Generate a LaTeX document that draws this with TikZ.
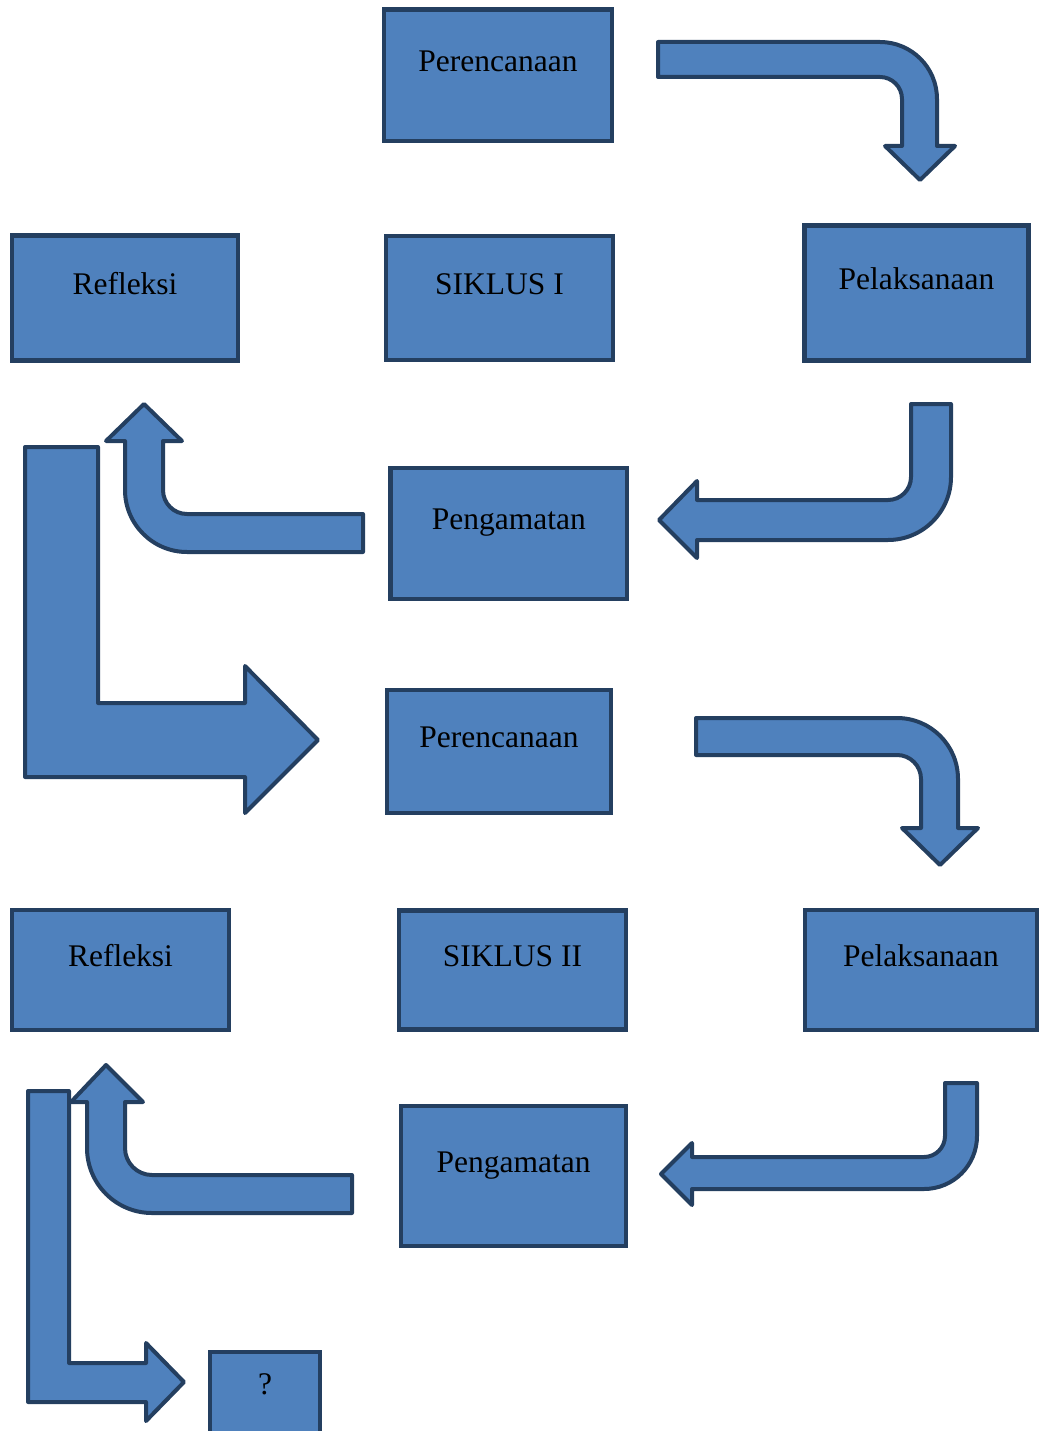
\documentclass[tikz,border=0pt]{standalone}
\usepackage{fontspec}
\setmainfont{Liberation Serif}
\usepackage{tikz}
\definecolor{boxfill}{HTML}{4F81BD}
\definecolor{boxline}{HTML}{243F60}
\tikzset{
	stage/.style={rectangle,draw=boxline,fill=boxfill,line width=4.5pt,inner sep=0pt,font=\fontsize{31.5}{36}\selectfont,text height=22pt,text depth=30pt},
	bent/.style={draw=boxline,fill=boxfill,line width=4pt,line join=round}}

\begin{document}
\begin{tikzpicture}[x=1pt,y=-1pt]
	\useasboundingbox (0,0) rectangle (1040,1431);
	\clip (0,0) rectangle (1040,1431);
	\node (P1) at (498,75.25) [stage,minimum width=228pt,minimum height=131.5pt] {Perencanaan};
	\node (R1) at (125,298) [stage,minimum width=226pt,minimum height=125pt] {Refleksi};
	\node (S1) at (499.5,298) [stage,minimum width=227pt,minimum height=124pt] {SIKLUS I};
	\node (L1) at (916.5,293) [stage,minimum width=224pt,minimum height=135pt] {Pelaksanaan};
	\node (G1) at (508.75,533.5) [stage,minimum width=236.5pt,minimum height=131pt] {Pengamatan};
	\node (P2) at (499,751.5) [stage,minimum width=224pt,minimum height=123pt] {Perencanaan};
	\node (R2) at (120.5,970) [stage,minimum width=217pt,minimum height=120pt] {Refleksi};
	\node (S2) at (512.5,970) [stage,minimum width=227pt,minimum height=119pt] {SIKLUS II};
	\node (L2) at (921,970) [stage,minimum width=232pt,minimum height=120pt] {Pelaksanaan};
	\node (G2) at (513.5,1176) [stage,minimum width=225pt,minimum height=140pt] {Pengamatan};
	\node (Q) at (265,1398) [stage,minimum width=110pt,minimum height=92pt] {?};
	\draw [bent] (658,42) -- (880,42) .. controls (911.5,42) and (937,67.5) .. (937,99) -- (937,146) -- (955,146) -- (920,180) -- (885,146) -- (902,146) -- (902,99) .. controls (902,86.9) and (892.1,77) .. (880,77) -- (658,77) -- cycle;
	\draw [bent] (911,404) -- (951,404) -- (951,477) .. controls (951,511.8) and (922.8,540) .. (888,540) -- (697,540) -- (697,558) -- (659,520) -- (697,481) -- (697,500) -- (888,500) .. controls (900.7,500) and (911,489.7) .. (911,477) -- cycle;
	\draw [bent] (363,514) -- (187,514) .. controls (173.7,514) and (163,503.3) .. (163,490) -- (163,441) -- (182,441) -- (144,404) -- (106,441) -- (125,441) -- (125,490) .. controls (125,524.2) and (152.8,552) .. (187,552) -- (363,552) -- cycle;
	\draw [bent] (25,447) -- (98,447) -- (98,703) -- (245,703) -- (245,666) -- (318,740) -- (245,813) -- (245,777) -- (25,777) -- cycle;
	\draw [bent] (696,718) -- (897,718) .. controls (930.7,718) and (958,745.3) .. (958,779) -- (958,828) -- (978,828) -- (940,865) -- (902,828) -- (921,828) -- (921,779) .. controls (921,765.7) and (910.3,755) .. (897,755) -- (696,755) -- cycle;
	\draw [bent] (945,1083) -- (977,1083) -- (977,1136) .. controls (977,1165.3) and (953.3,1189) .. (924,1189) -- (692,1189) -- (692,1205) -- (661,1174) -- (692,1143) -- (692,1157) -- (924,1157) .. controls (935.6,1157) and (945,1147.6) .. (945,1136) -- cycle;
	\draw [bent] (28,1091) -- (69,1091) -- (69,1363) -- (146,1363) -- (146,1343) -- (184,1382) -- (146,1421) -- (146,1402) -- (28,1402) -- cycle;
	\draw [bent] (352,1175) -- (152,1175) .. controls (137.1,1175) and (125,1162.9) .. (125,1148) -- (125,1102) -- (143,1102) -- (106,1065) -- (71,1102) -- (87,1102) -- (87,1148) .. controls (87,1183.9) and (116.1,1213) .. (152,1213) -- (352,1213) -- cycle;
\end{tikzpicture}
\end{document}
